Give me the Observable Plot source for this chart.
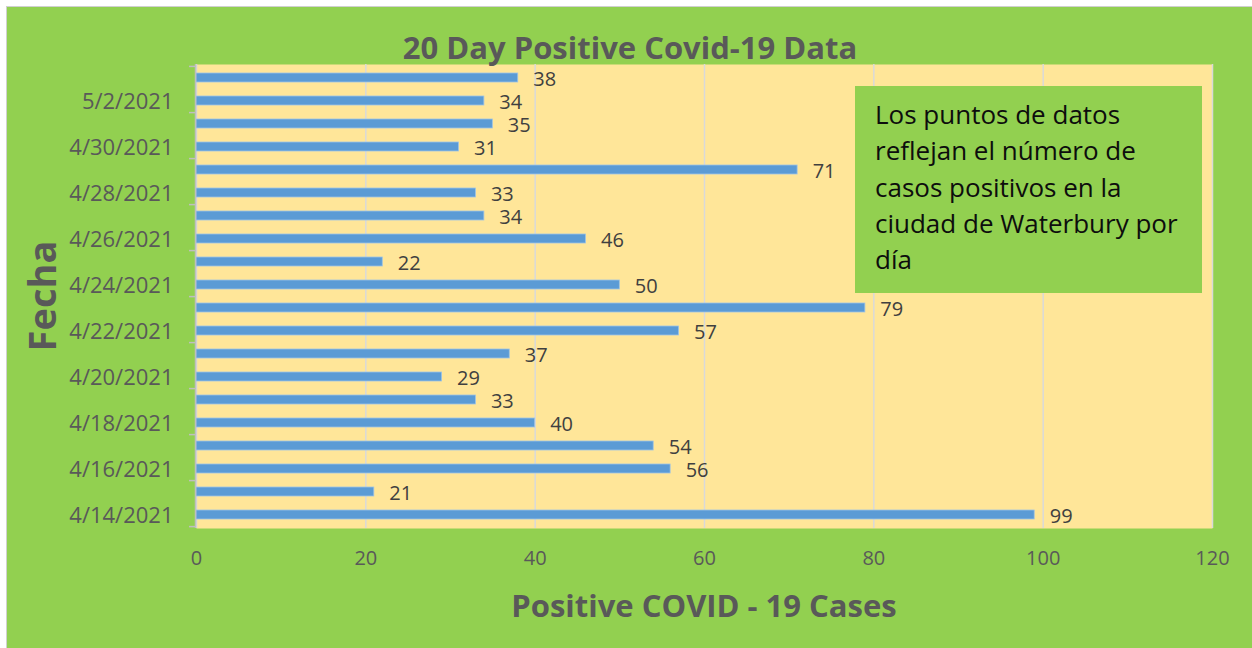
<!DOCTYPE html>
<html>
<head>
<meta charset="utf-8">
<script src="https://cdn.jsdelivr.net/npm/d3@7"></script>
<script src="https://cdn.jsdelivr.net/npm/@observablehq/plot@0.6"></script>
<style>
  html, body { margin: 0; padding: 0; background: #ffffff; }
  #wrap { position: relative; width: 1252px; height: 648px; overflow: hidden; font-family: "Open Sans", sans-serif; }
  #bg { position: absolute; left: 6px; top: 6px; width: 1250px; height: 645px; background: #92D050; border-top: 1px solid #d0d0d0; border-left: 1px solid #d0d0d0; }
  #chart { position: absolute; left: 0; top: 0; }
  .title { position: absolute; left: 0; width: 1260px; top: 27px; text-align: center; font-weight: 700; font-size: 31px; color: #595959; line-height: 40px; }
  .xtitle { position: absolute; left: 196px; width: 1016px; top: 584px; text-align: center; font-weight: 700; font-size: 31px; color: #595959; line-height: 42px; }
  .ytitle { position: absolute; left: 41px; top: 296px; transform: translate(-50%, -50%) rotate(-90deg); font-weight: 700; font-size: 38px; color: #595959; white-space: nowrap; }
  .note { position: absolute; left: 855px; top: 86px; width: 347px; height: 207px; background: #92D050; box-sizing: border-box; padding: 10px 4px 0 20px; font-size: 26px; line-height: 36.3px; color: #0d0d0d; white-space: nowrap; }
</style>
</head>
<body>
<div id="wrap">
  <div id="bg"></div>
  <div id="chart"></div>
  <div class="title">20 Day Positive Covid-19 Data</div>
  <div class="ytitle">Fecha</div>
  <div class="xtitle">Positive COVID - 19 Cases</div>
  <div class="note">Los puntos de datos<br>reflejan el número de<br>casos positivos en la<br>ciudad de Waterbury por<br>día</div>
</div>
<script>
const dates = ["4/14/2021","4/15/2021","4/16/2021","4/17/2021","4/18/2021","4/19/2021","4/20/2021","4/21/2021","4/22/2021","4/23/2021","4/24/2021","4/25/2021","4/26/2021","4/27/2021","4/28/2021","4/29/2021","4/30/2021","5/1/2021","5/2/2021","5/3/2021"];
const cases = [99,21,56,54,40,33,29,37,57,79,50,22,46,34,33,71,31,35,34,38];
const labeledDates = ["4/14/2021","4/16/2021","4/18/2021","4/20/2021","4/22/2021","4/24/2021","4/26/2021","4/28/2021","4/30/2021","5/2/2021"];
const xTicks = [0,20,40,60,80,100,120];

const data = dates.map((d, i) => ({date: d, value: cases[i]}));

const W = 1252, H = 648, mt = 64, mb = 120, ml = 196, mr = 40;
const step = (H - mt - mb) / dates.length;

const chart = Plot.plot({
  width: W,
  height: H,
  marginTop: mt,
  marginBottom: mb,
  marginLeft: ml,
  marginRight: mr,
  style: {background: "transparent", fontFamily: "Open Sans, sans-serif", overflow: "visible"},
  x: {domain: [0, 120]},
  y: {domain: dates.slice().reverse(), paddingInner: 0.61, paddingOuter: 0.305, align: 0.5},
  marks: [
    Plot.frame({fill: "#FFE699", stroke: null}),
    Plot.ruleX(xTicks, {stroke: "#d9d9d9", strokeWidth: 1.5}),
    Plot.barX(data, {y: "date", x: "value", fill: "#5B9BD5", stroke: "#9DC3E6", strokeWidth: 0.8}),
    Plot.text(data, {y: "date", x: "value", text: d => String(d.value), dx: 15, dy: 2, textAnchor: "start", fill: "#404040", fontSize: 20}),
    Plot.axisY(labeledDates, {tickSize: 0, tickPadding: 23, fontSize: 22, fill: "#595959", label: null, dy: 1}),
    Plot.axisY(labeledDates, {tickSize: 7, text: null, stroke: "#BFBFBF", strokeWidth: 1.5, dy: step / 2, label: null}),
    Plot.axisY(["5/3/2021"], {tickSize: 7, text: null, stroke: "#BFBFBF", strokeWidth: 1.5, dy: -step / 2, label: null}),
    Plot.ruleX([0], {stroke: "#BFBFBF", strokeWidth: 1.5, dx: -1}),
    Plot.axisX(xTicks, {tickSize: 0, tickPadding: 22, fontSize: 20, fill: "#595959", label: null})
  ]
});
document.getElementById("chart").appendChild(chart);
</script>
</body>
</html>
